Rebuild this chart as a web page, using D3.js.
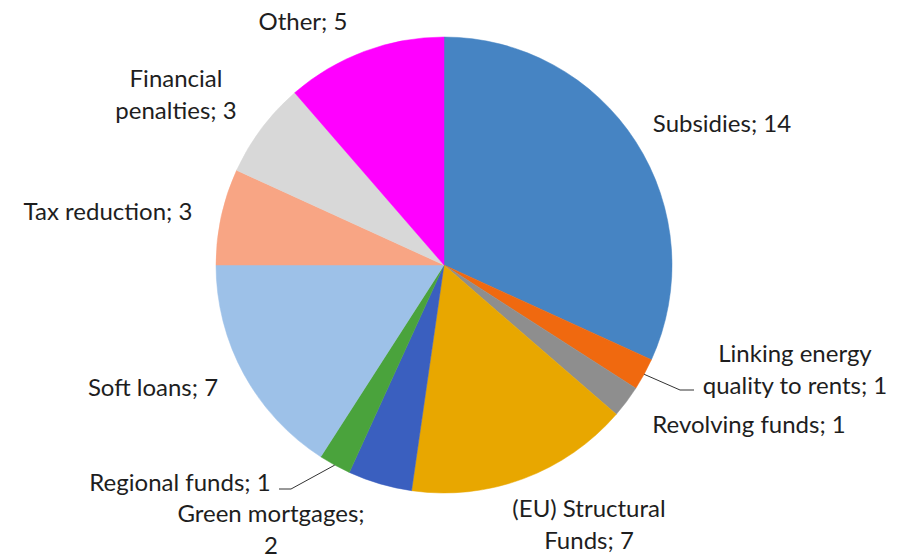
<!DOCTYPE html>
<html>
<head>
<meta charset="utf-8">
<script src="https://cdn.jsdelivr.net/npm/d3@7"></script>
<style>
  body { margin: 0; background: #fff; }
  text { font-family: Lato, "Open Sans", sans-serif; font-size: 24px; fill: #1e1e1e; }
</style>
</head>
<body>
<script>
// Chart data (clockwise from 12 o'clock)
var categories = ["Subsidies", "Linking energy quality to rents", "Revolving funds",
                  "(EU) Structural Funds", "Green mortgages", "Regional funds",
                  "Soft loans", "Tax reduction", "Financial penalties", "Other"];
var values = [14, 1, 1, 7, 2, 1, 7, 3, 3, 5];
var colors = ["#4684c3", "#f0690f", "#8e8e8e", "#e8a700", "#3a5fbf", "#4aa33c",
              "#9dc1e8", "#f8a584", "#d8d8d8", "#ff00ff"];

// label text lines, as in the original
var labelLines = [["Subsidies; 14"], ["Linking energy", "quality to rents; 1"],
                  ["Revolving funds; 1"], ["(EU) Structural", "Funds; 7"],
                  ["Green mortgages;", "2"], ["Regional funds; 1"], ["Soft loans; 7"],
                  ["Tax reduction; 3"], ["Financial", "penalties; 3"], ["Other; 5"]];

// Layout
var width = 909, height = 557;
var cx = 444, cy = 265, radius = 228;
var lineHeight = 32;
// label anchor (x centre, first baseline) for each slice
var labelPos = [[722, 132], [795, 362], [749, 433], [589, 517], [271, 522],
                [180, 491], [153, 396], [108, 220], [176, 87], [303, 30]];
// leader lines: [elbow x, elbow y, end x] for slices that have one
var leaders = {1: [680, 390, 694], 5: [291, 489, 279]};

var svg = d3.select("body").append("svg")
    .attr("width", width)
    .attr("height", height);

var pie = d3.pie().sort(null).value(function(d) { return d; });
var arc = d3.arc().innerRadius(0).outerRadius(radius);
var arcs = pie(values);

var g = svg.append("g").attr("transform", "translate(" + cx + "," + cy + ")");

g.selectAll(".slice")
  .data(arcs)
  .enter()
  .append("path")
  .attr("class", "slice")
  .attr("d", arc)
  .style("fill", function(d, i) { return colors[i]; })
  .style("stroke", function(d, i) { return colors[i]; })
  .style("stroke-width", 0.5);

// leader lines from slice edge (mid angle) to label
arcs.forEach(function(d, i) {
  if (!leaders[i]) return;
  var a = (d.startAngle + d.endAngle) / 2;
  var x0 = cx + radius * Math.sin(a), y0 = cy - radius * Math.cos(a);
  var l = leaders[i];
  svg.append("polyline")
    .attr("points", [[x0, y0], [l[0], l[1]], [l[2], l[1]]].map(function(p) { return p.join(","); }).join(" "))
    .style("fill", "none")
    .style("stroke", "#333")
    .style("stroke-width", 1);
});

// labels
var labels = svg.selectAll(".label")
  .data(labelLines)
  .enter()
  .append("text")
  .attr("class", "label")
  .attr("text-anchor", "middle")
  .attr("x", function(d, i) { return labelPos[i][0]; })
  .attr("y", function(d, i) { return labelPos[i][1]; });

labels.selectAll("tspan")
  .data(function(d, i) { return d.map(function(t) { return {t: t, x: labelPos[i][0]}; }); })
  .enter()
  .append("tspan")
  .attr("x", function(d) { return d.x; })
  .attr("dy", function(d, j) { return j == 0 ? 0 : lineHeight; })
  .text(function(d) { return d.t; });
</script>
</body>
</html>
